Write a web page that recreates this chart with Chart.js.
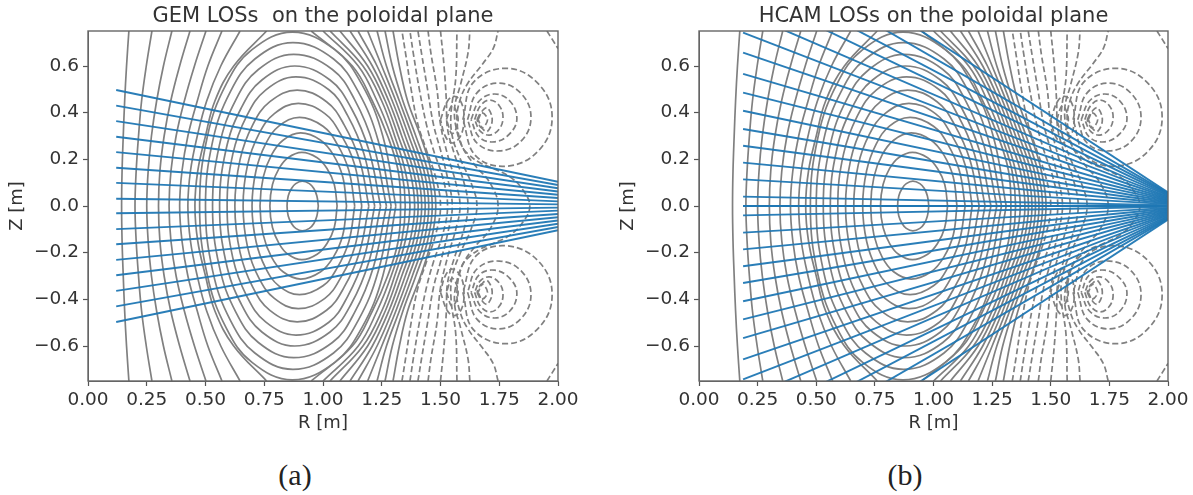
<!DOCTYPE html>
<html>
<head>
<meta charset="utf-8">
<title>LOSs on the poloidal plane</title>
<script src="https://cdn.jsdelivr.net/npm/chart.js@4"></script>
<style>
  html, body { margin: 0; padding: 0; background: #fff; }
  body { width: 1193px; height: 495px; position: relative; overflow: hidden; }
  .panel { position: absolute; top: 0; width: 590px; height: 440px; filter: blur(0.5px); }
  .caption { position: absolute; top: 458px; width: 100px; text-align: center;
             font: 30px "Liberation Serif", serif; color: #222; }
</style>
</head>
<body>
<div class="panel" style="left:0"><canvas id="gem"></canvas></div>
<div class="panel" style="left:611px"><canvas id="hcam"></canvas></div>
<div class="caption" style="left:245px">(a)</div>
<div class="caption" style="left:855px">(b)</div>

<script>
const rTicks = [0, 0.25, 0.5, 0.75, 1, 1.25, 1.5, 1.75, 2];
const zTicks = [-0.6, -0.4, -0.2, 0, 0.2, 0.4, 0.6];

// flux surfaces, upper half only, the plot is up/down symmetric
// R read at each of these heights
const zLevels = [0, 0.15, 0.3, 0.45, 0.6, 0.75];
const leftArcs = [
    [0.143, 0.145, 0.15, 0.156, 0.164, 0.174],
    [0.20, 0.205, 0.215, 0.228, 0.248, 0.272],
    [0.25, 0.256, 0.27, 0.292, 0.321, 0.357],
    [0.30, 0.306, 0.324, 0.352, 0.39, 0.434],
    [0.345, 0.353, 0.375, 0.41, 0.453, 0.502],
    [0.39, 0.40, 0.425, 0.465, 0.51, 0.57],
    [0.425, 0.436, 0.465, 0.505, 0.565, 0.647],
    [0.455, 0.467, 0.50, 0.54, 0.62, 0.76]
];
const rightArcs = [
    [1.33, 1.32, 1.275, 1.21, 1.125, 0.95],
    [1.35, 1.335, 1.29, 1.23, 1.15, 1.0],
    [1.37, 1.35, 1.305, 1.25, 1.17, 1.03],
    [1.39, 1.37, 1.32, 1.265, 1.19, 1.072],
    [1.405, 1.385, 1.335, 1.28, 1.21, 1.115],
    [1.42, 1.40, 1.35, 1.295, 1.23, 1.149],
    [1.435, 1.415, 1.365, 1.31, 1.25, 1.19],
    [1.45, 1.43, 1.38, 1.325, 1.27, 1.23],
    [1.465, 1.445, 1.395, 1.34, 1.295, 1.264],
    [1.48, 1.46, 1.415, 1.36, 1.325, 1.298]
];
// closed surfaces, [R, Z] from the inner midplane over the top to the outer midplane
const rings = [
    [[0.847,0],[0.852,0.043],[0.866,0.075],[0.884,0.096],[0.912,0.107],[0.942,0.096],[0.961,0.075],[0.974,0.043],[0.98,0]],
    [[0.774,0],[0.785,0.092],[0.813,0.161],[0.851,0.207],[0.91,0.23],[0.975,0.207],[1.017,0.161],[1.048,0.092],[1.06,0]],
    [[0.732,0],[0.746,0.125],[0.781,0.219],[0.83,0.282],[0.905,0.313],[0.99,0.282],[1.044,0.219],[1.084,0.125],[1.10,0]],
    [[0.698,0],[0.715,0.152],[0.756,0.266],[0.812,0.342],[0.90,0.38],[1.0,0.342],[1.06,0.266],[1.11,0.152],[1.135,0]],
    [[0.66,0],[0.679,0.176],[0.727,0.308],[0.793,0.396],[0.895,0.44],[1.008,0.396],[1.075,0.308],[1.135,0.176],[1.165,0]],
    [[0.625,0],[0.647,0.199],[0.701,0.348],[0.774,0.447],[0.89,0.497],[1.015,0.447],[1.09,0.348],[1.155,0.199],[1.195,0]],
    [[0.592,0],[0.616,0.221],[0.676,0.387],[0.757,0.498],[0.885,0.553],[1.025,0.498],[1.105,0.387],[1.175,0.221],[1.22,0]],
    [[0.56,0],[0.587,0.24],[0.652,0.42],[0.74,0.54],[0.88,0.60],[1.03,0.54],[1.12,0.42],[1.195,0.24],[1.245,0]],
    [[0.53,0],[0.559,0.26],[0.629,0.455],[0.725,0.585],[0.875,0.65],[1.04,0.585],[1.135,0.455],[1.215,0.26],[1.27,0]],
    [[0.50,0],[0.531,0.28],[0.606,0.49],[0.71,0.63],[0.872,0.70],[1.045,0.63],[1.15,0.49],[1.235,0.28],[1.29,0]],
    [[0.475,0],[0.508,0.298],[0.588,0.522],[0.698,0.67],[0.87,0.745],[1.05,0.67],[1.165,0.522],[1.255,0.298],[1.31,0]]
];
// dashed (negative) levels, midplane tip up to the top edge
const dashedArcs = [
    [[1.50,0],[1.48,0.12],[1.44,0.24],[1.404,0.35],[1.375,0.5],[1.352,0.65],[1.336,0.75]],
    [[1.53,0],[1.51,0.12],[1.47,0.24],[1.44,0.35],[1.41,0.5],[1.385,0.65],[1.37,0.75]],
    [[1.55,0],[1.53,0.12],[1.50,0.24],[1.47,0.35],[1.445,0.5],[1.42,0.65],[1.404,0.75]],
    [[1.583,0],[1.565,0.1],[1.53,0.22],[1.50,0.35],[1.485,0.5],[1.46,0.65],[1.447,0.75]],
    [[1.617,0],[1.6,0.1],[1.56,0.22],[1.53,0.33],[1.525,0.45],[1.515,0.6],[1.50,0.75]],
    [[1.655,0],[1.63,0.1],[1.585,0.2],[1.55,0.3],[1.545,0.4],[1.565,0.55],[1.57,0.75]],
    [[1.745,0],[1.71,0.1],[1.65,0.17],[1.60,0.24],[1.57,0.32],[1.56,0.42],[1.585,0.52],[1.617,0.655],[1.625,0.75]],
    [[1.88,0],[1.85,0.07],[1.795,0.125],[1.71,0.167],[1.668,0.185],[1.62,0.22],[1.59,0.26],[1.57,0.37],[1.583,0.454],[1.617,0.527],[1.68,0.61],[1.725,0.677],[1.745,0.75]],
    [[1.953,0.75],[1.975,0.715],[2.0,0.675]]
];
// closed dashed loops around the coils, upper one
const lobes = [
    [[1.595,0.37],[1.64,0.53],[1.785,0.59],[1.92,0.52],[1.975,0.38],[1.92,0.24],[1.785,0.171],[1.65,0.215],[1.595,0.37]],
    [[1.615,0.37],[1.655,0.485],[1.75,0.527],[1.845,0.48],[1.885,0.38],[1.845,0.28],[1.75,0.236],[1.655,0.27],[1.615,0.37]],
    [[1.63,0.37],[1.665,0.45],[1.73,0.48],[1.795,0.45],[1.825,0.375],[1.795,0.31],[1.73,0.275],[1.665,0.295],[1.63,0.37]],
    [[1.645,0.37],[1.67,0.43],[1.71,0.454],[1.75,0.43],[1.766,0.38],[1.75,0.33],[1.71,0.304],[1.67,0.32],[1.645,0.37]],
    [[1.66,0.37],[1.68,0.41],[1.70,0.42],[1.72,0.37],[1.70,0.32],[1.68,0.33],[1.66,0.37]],
    [[1.655,0.37],[1.675,0.40],[1.70,0.37],[1.675,0.335],[1.655,0.37]],
    [[1.50,0.37],[1.53,0.45],[1.56,0.47],[1.59,0.44],[1.60,0.37],[1.585,0.30],[1.55,0.27],[1.52,0.30],[1.50,0.37]],
    [[1.525,0.37],[1.55,0.43],[1.575,0.37],[1.55,0.31],[1.525,0.37]]
];

// lines of sight, Z at the first R and at R = 2 (upper half, mirrored below)
const losEndR = 2;
const gemStartR = 0.12;
const gemStartZ = [0.031, 0.099, 0.164, 0.231, 0.297, 0.364, 0.43, 0.497];
const gemEndZ = [0.007, 0.020, 0.034, 0.048, 0.062, 0.076, 0.090, 0.104];
const hcamStartR = 0.188;
const hcamStartZ = [0, 0.04, 0.114, 0.186, 0.258, 0.33, 0.408, 0.486, 0.566, 0.657, 0.743, 0.83, 0.925, 1.01, 1.107, 1.249];
const hcamEndZ = [0, 0.003, 0.008, 0.012, 0.016, 0.020, 0.024, 0.028, 0.032, 0.036, 0.040, 0.044, 0.048, 0.052, 0.055, 0.058];

const GRAY = '#808080';
const BLUE = 'rgba(31,119,180,0.95)';
const TEXT = '#333';

function pt(p) { return {x: p[0], y: p[1]}; }

// upper half -> whole curve through the midplane
function mirrorCurve(pts) {
    const lower = pts.slice().reverse().map(p => ({x: p[0], y: -p[1]}));
    return lower.concat(pts.slice(1).map(pt));
}

function grayLine(data, dashed) {
    return {data, borderColor: GRAY, borderWidth: 1.7, pointRadius: 0, showLine: true, tension: 0.4,
            borderDash: dashed ? [6, 3] : [], order: 2};
}

function contourSets() {
    const sets = [];
    leftArcs.concat(rightArcs).forEach(arc => {
        sets.push(grayLine(mirrorCurve(arc.map((r, i) => [r, zLevels[i]])), false));
    });
    rings.forEach(c => sets.push(grayLine(mirrorCurve(c), false)));
    dashedArcs.forEach(c => {
        if (c[0][1] === 0) {
            sets.push(grayLine(mirrorCurve(c), true));
        } else {
            sets.push(grayLine(c.map(pt), true));
            sets.push(grayLine(c.map(p => ({x: p[0], y: -p[1]})), true));
        }
    });
    lobes.forEach(c => {
        sets.push(grayLine(c.map(pt), true));
        sets.push(grayLine(c.map(p => ({x: p[0], y: -p[1]})), true));
    });
    return sets;
}

function losSets(startR, startZ, endZ) {
    const sets = [];
    startZ.forEach((z, i) => {
        [1, -1].forEach(sign => {
            sets.push({
                data: [{x: startR, y: sign * z}, {x: losEndR, y: sign * endZ[i]}],
                borderColor: BLUE, borderWidth: 1.9, pointRadius: 0, showLine: true, order: 1
            });
        });
    });
    return sets;
}

const frame = {
    id: 'frame',
    afterDatasetsDraw(chart) {
        const a = chart.chartArea, c = chart.ctx;
        c.save();
        c.strokeStyle = '#666';
        c.lineWidth = 1.4;
        c.strokeRect(a.left, a.top, a.right - a.left, a.bottom - a.top);
        c.restore();
    }
};

function makeChart(id, titleText, los, rightPad) {
    new Chart(document.getElementById(id), {
        type: 'scatter',
        data: {datasets: los.concat(contourSets())},
        plugins: [frame],
        options: {
            responsive: true,
            maintainAspectRatio: false,
            animation: false,
            events: [],
            layout: {padding: {right: rightPad}},
            plugins: {
                legend: {display: false},
                tooltip: {enabled: false},
                title: {
                    display: true,
                    fullSize: false,
                    text: titleText,
                    color: TEXT,
                    font: {family: 'DejaVu Sans', size: 21, weight: 'normal', lineHeight: 1},
                    padding: {top: 6, bottom: 4}
                }
            },
            scales: {
                x: {
                    type: 'linear', min: 0, max: 2,
                    afterBuildTicks: axis => { axis.ticks = rTicks.map(v => ({value: v})); },
                    afterFit: axis => { axis.height = 59; },
                    ticks: {
                        color: TEXT, maxRotation: 0, autoSkip: false, padding: 3,
                        font: {family: 'DejaVu Sans', size: 18.5},
                        callback: v => v.toFixed(2)
                    },
                    grid: {drawOnChartArea: false, color: '#555', tickLength: 5, tickWidth: 1.2},
                    border: {color: '#666'},
                    title: {display: true, text: 'R [m]', color: TEXT, padding: {top: 0, bottom: 6},
                            font: {family: 'DejaVu Sans', size: 18}}
                },
                y: {
                    type: 'linear', min: -0.75, max: 0.75,
                    afterBuildTicks: axis => { axis.ticks = zTicks.map(v => ({value: v})); },
                    afterFit: axis => { axis.width = 88; },
                    ticks: {
                        color: TEXT, autoSkip: false, padding: 4,
                        font: {family: 'DejaVu Sans', size: 18.5},
                        callback: v => v.toFixed(1).replace('-', '\u2212')
                    },
                    grid: {drawOnChartArea: false, color: '#555', tickLength: 5, tickWidth: 1.2},
                    border: {color: '#666'},
                    title: {display: true, text: 'Z [m]', color: TEXT, padding: {top: 7, bottom: 0},
                            font: {family: 'DejaVu Sans', size: 18}}
                }
            }
        }
    });
}

makeChart('gem', 'GEM LOSs  on the poloidal plane', losSets(gemStartR, gemStartZ, gemEndZ), 32);
makeChart('hcam', 'HCAM LOSs on the poloidal plane', losSets(hcamStartR, hcamStartZ, hcamEndZ), 33);
</script>
</body>
</html>
